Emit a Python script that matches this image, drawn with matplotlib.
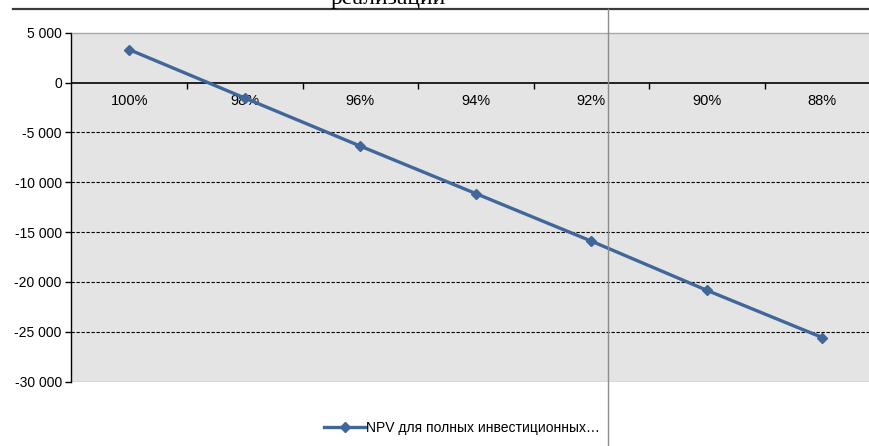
import matplotlib
matplotlib.use("Agg")
import matplotlib.pyplot as plt
from matplotlib.lines import Line2D
from matplotlib.ticker import FixedLocator, FuncFormatter

plt.rcParams['font.family'] = ['Liberation Sans', 'DejaVu Sans']

# data
categories = ['100%', '98%', '96%', '94%', '92%', '90%', '88%']
npv = [3300, -1550, -6370, -11130, -15900, -20830, -25570]
series_name = 'NPV для полных инвестиционных…'
title_text = 'реализации'
y_ticks = [5000, 0, -5000, -10000, -15000, -20000, -25000, -30000]

W, H = 870, 446
fig = plt.figure(figsize=(W / 100, H / 100), dpi=100)
ax = fig.add_axes([71.5 / W, (H - 381.7) / H, (880 - 71.5) / W, (381.7 - 32.7) / H])
ax.set_facecolor('#E4E4E4')

x = list(range(len(categories)))
line, = ax.plot(x, npv, color='#41679A', lw=2.4, marker='D', ms=5.5,
                mec='#41679A', mfc='#41679A', zorder=5, label=series_name)

ax.set_xlim(-0.5, len(categories) - 0.5)
ax.set_ylim(min(y_ticks), max(y_ticks))

# y axis
ax.yaxis.set_major_locator(FixedLocator(y_ticks))
ax.yaxis.set_major_formatter(FuncFormatter(lambda v, p: f"{v:,.0f}".replace(",", " ")))
ax.tick_params(axis='y', direction='out', length=4, width=1, color='black',
               labelsize=10, pad=3)
ax.spines['left'].set_color('black')
ax.spines['left'].set_linewidth(1)

# x axis sits on zero
ax.spines['bottom'].set_position(('data', 0))
ax.spines['bottom'].set_color('black')
ax.spines['bottom'].set_linewidth(1.2)
ax.set_xticks(x)
ax.set_xticklabels(categories)
ax.set_xticks([i + 0.5 for i in x[:-1]], minor=True)
ax.tick_params(axis='x', which='major', length=0, labelsize=10.5, pad=8)
ax.tick_params(axis='x', which='minor', direction='out', length=4, width=1,
               color='black')

ax.spines['top'].set_color('#A8A8A8')
ax.spines['top'].set_linewidth(1)
ax.spines['right'].set_visible(False)
ax.axhline(min(y_ticks), color='#A8A8A8', lw=1)

# dashed gridlines between the borders
for v in y_ticks[2:-1]:
    ax.axhline(v, color='black', lw=0.8, ls=(0, (3, 1.5)), zorder=1)

fig.legend(handles=[line], loc='center', bbox_to_anchor=(462 / W, 1 - 428 / H),
           frameon=False, fontsize=10, handlelength=3.0, handletextpad=0.05,
           borderaxespad=0)

# surrounding document pieces
fig.text(388 / W, 1 - 4 / H, title_text, family='Liberation Serif', fontsize=17,
         ha='center', va='baseline')
fig.add_artist(Line2D([13 / W, 1], [1 - 8.5 / H, 1 - 8.5 / H],
                      transform=fig.transFigure, color='#3A3A3A', lw=1.6))
fig.add_artist(Line2D([608 / W, 608 / W], [0, 1 - 8.5 / H],
                      transform=fig.transFigure, color='#8C8C8C', lw=1))

fig.savefig('out.png', dpi=100)
